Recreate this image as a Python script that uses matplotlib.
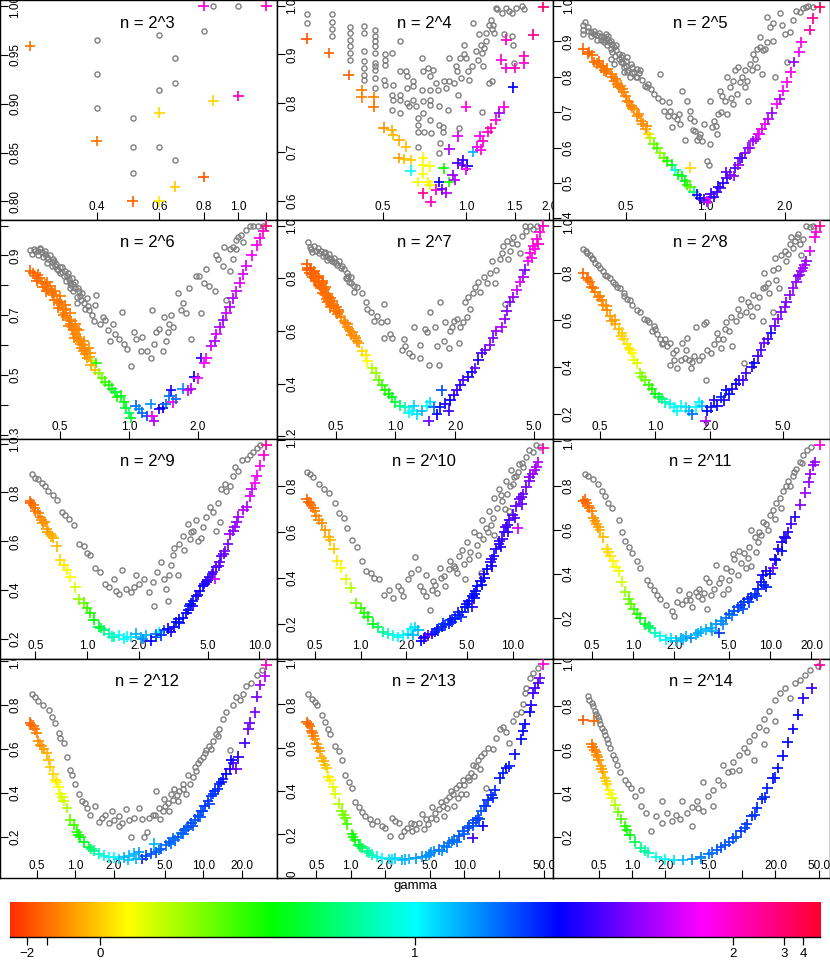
import numpy as np
import matplotlib
matplotlib.use("Agg")
import matplotlib.pyplot as plt
from matplotlib.colors import ListedColormap, hsv_to_rgb

plt.rcParams['font.family'] = ['Liberation Sans', 'DejaVu Sans']

# ---------------- data (x, y) for gray circles, (x, y, colour position) for crosses -------------
n3_circles = [(0.4,0.965),(0.4,0.930),(0.4,0.896),(0.505,0.885),(0.505,0.856),(0.505,0.829),
              (0.6,0.970),(0.6,0.914),(0.6,0.856),(0.664,0.947),(0.664,0.921),(0.664,0.842),
              (0.8,0.974),(0.85,1.0),(1.0,1.0)]
n3_crosses = [(0.26,0.959,0.05),(0.40,0.862,0.05),(0.505,0.80,0.04),(0.6,0.891,0.12),(0.6,0.80,0.13),
              (0.664,0.815,0.11),(0.8,0.825,0.03),(0.85,0.903,0.12),(0.8,1.0,0.88),(1.0,0.908,0.9),
              (1.2,1.0,0.9)]

n4_circles = [(0.266,0.982),(0.266,0.964),(0.328,0.982),(0.328,0.966),(0.328,0.952),(0.328,0.937),
              (0.38,0.956),(0.38,0.944),(0.38,0.93),(0.38,0.917),(0.38,0.903),(0.38,0.889),
              (0.429,0.959),(0.429,0.944),(0.429,0.906),(0.429,0.886),(0.429,0.872),(0.429,0.858),(0.429,0.848),
              (0.47,0.949),(0.47,0.937),(0.47,0.927),(0.47,0.917),(0.47,0.903),(0.47,0.882),(0.47,0.876),
              (0.47,0.869),(0.47,0.852),(0.47,0.831),
              (0.51,0.9),(0.51,0.889),(0.51,0.879),(0.506,0.848),(0.51,0.838),(0.543,0.903),(0.546,0.838),
              (0.543,0.817),(0.546,0.807),(0.543,0.787),(0.58,0.927),(0.58,0.865),(0.58,0.817),(0.58,0.807),
              (0.58,0.78),(0.61,0.865),(0.613,0.855),(0.613,0.831),(0.613,0.8),(0.623,0.794),(0.644,0.845),
              (0.644,0.835),(0.644,0.807),(0.662,0.794),(0.671,0.77),(0.671,0.756),(0.671,0.742),(0.671,0.711),
              (0.696,0.893),(0.7,0.865),(0.696,0.828),(0.7,0.804),(0.7,0.78),(0.703,0.742),(0.729,0.872),
              (0.739,0.855),(0.739,0.828),(0.743,0.807),(0.743,0.797),(0.743,0.766),(0.749,0.739),(0.76,0.869),
              (0.781,0.841),(0.792,0.828),(0.798,0.794),(0.798,0.756),(0.803,0.718),(0.825,0.752),(0.829,0.742),
              (0.836,0.845),(0.848,0.831),(0.86,0.787),(0.871,0.893),(0.871,0.845),(0.908,0.841),(0.921,0.876),
              (0.926,0.865),(0.934,0.817),(0.941,0.749),(0.952,0.893),(0.96,0.852),(0.986,0.92),(0.986,0.9),
              (1.0,0.893),(1.014,0.865),(1.028,0.848),(1.056,0.876),(1.062,0.964),(1.086,0.906),(1.101,0.889),
              (1.116,0.941),(1.132,0.92),(1.147,0.903),(1.154,0.876),(1.163,0.913),(1.179,0.927),(1.186,0.944),
              (1.212,0.961),(1.229,0.971),(1.246,0.951),(1.253,0.961),(1.212,0.841),(1.246,0.845),(1.263,0.944),
              (1.281,0.995),(1.299,0.992),(1.353,0.985),(1.391,0.995),(1.43,0.988),(1.47,0.985),(1.511,0.995),
              (1.596,0.999),(1.619,0.992),(1.47,0.937),(1.372,0.941),(1.478,0.92),(1.49,0.882),(1.147,0.783),
              (0.80,0.698)]
n4_crosses = [(0.266,0.932,0.03),(0.32,0.903,0.04),(0.377,0.858,0.04),(0.42,0.827,0.06),(0.42,0.812,0.06),
              (0.465,0.812,0.06),(0.465,0.793,0.05),(0.505,0.75,0.07),(0.54,0.745,0.09),(0.545,0.735,0.1),
              (0.575,0.724,0.09),(0.607,0.711,0.1),(0.572,0.688,0.08),(0.6,0.686,0.1),(0.632,0.684,0.11),
              (0.70,0.689,0.14),(0.74,0.671,0.15),(0.70,0.674,0.15),(0.632,0.662,0.5),(0.67,0.639,0.16),
              (0.70,0.656,0.15),(0.73,0.639,0.14),(0.74,0.633,0.16),(0.70,0.616,0.93),(0.747,0.599,0.9),
              (0.78,0.623,0.9),(0.80,0.639,0.68),(0.83,0.667,0.32),(0.87,0.639,0.3),(0.85,0.617,0.8),
              (0.82,0.624,0.75),(0.897,0.653,0.78),(0.91,0.643,0.8),(0.935,0.677,0.72),(0.97,0.674,0.77),
              (0.975,0.684,0.72),(1.01,0.672,0.68),(1.0,0.665,0.85),(0.935,0.732,0.83),(0.87,0.706,0.8),
              (1.0,0.793,0.88),(1.06,0.701,0.55),(1.1,0.711,0.85),(1.12,0.732,0.85),(1.15,0.722,0.88),
              (1.13,0.705,0.87),(1.2,0.742,0.9),(1.23,0.749,0.9),(1.28,0.766,0.88),(1.32,0.780,0.78),
              (1.37,0.793,0.88),(1.34,0.889,0.88),(1.4,0.930,0.9),(1.4,0.872,0.88),(1.48,0.833,0.68),
              (1.5,0.872,0.9),(1.62,0.896,0.9),(1.62,0.882,0.88),(1.75,0.940,0.93),(1.9,0.997,0.95)]

n5_circles = [(0.346,0.946),(0.346,0.932),(0.346,0.922),(0.359,0.941),(0.369,0.927),(0.38,0.922),(0.391,0.917),
              (0.403,0.915),(0.415,0.913),(0.427,0.908),(0.433,0.898),(0.445,0.894),(0.452,0.884),(0.415,0.898),
              (0.403,0.903),(0.439,0.88),(0.458,0.875),(0.472,0.865),(0.486,0.861),(0.5,0.846),(0.507,0.856),
              (0.522,0.837),(0.53,0.827),(0.537,0.813),(0.553,0.823),(0.569,0.818),(0.553,0.799),(0.507,0.813),
              (0.493,0.827),(0.479,0.842),(0.439,0.851),(0.452,0.837),(0.621,0.766),(0.639,0.751),(0.677,0.808),
              (0.687,0.732),(0.697,0.704),(0.728,0.728),(0.738,0.704),(0.749,0.657),(0.76,0.69),(0.794,0.694),
              (0.817,0.761),(0.853,0.732),(0.878,0.685),(0.904,0.676),(0.917,0.647),(0.93,0.623),(0.957,0.638),
              (0.986,0.666),(1.015,0.562),(1.029,0.552),(1.044,0.732),(1.06,0.657),(1.075,0.676),(1.106,0.638),
              (1.122,0.694),(1.139,0.761),(1.155,0.747),(1.189,0.732),(1.206,0.799),(1.242,0.77),(1.278,0.789),
              (1.297,0.818),(1.316,0.751),(1.335,0.827),(1.354,0.785),(1.414,0.818),(1.434,0.789),(1.476,0.837),
              (1.52,0.865),(1.542,0.851),(1.564,0.88),(1.61,0.913),(1.634,0.808),(1.658,0.875),(1.706,0.898),
              (1.756,0.941),(1.807,0.951),(1.833,0.799),(1.914,0.979),(2.0,0.922),(2.029,0.842),(2.088,0.927),
              (2.149,0.96),(2.277,0.984),(2.343,0.993),(2.413,0.998),(2.556,0.998),(1.706,0.97),(1.61,0.884),
              (1.564,0.827),(1.455,0.732),(1.414,0.77),(1.278,0.723),(1.206,0.694),(1.044,0.609),(0.971,0.619),
              (0.878,0.704),(0.841,0.623),(0.805,0.666),
              (0.35,0.955),(0.36,0.93),(0.37,0.915),(0.38,0.93),(0.39,0.905),(0.395,0.925),(0.41,0.905),
              (0.42,0.92),(0.425,0.89),(0.43,0.915),(0.44,0.9),(0.445,0.87),(0.455,0.86),(0.46,0.89),
              (0.47,0.85),(0.48,0.855),(0.49,0.84),(0.495,0.815),(0.5,0.83),(0.51,0.82),(0.52,0.8),
              (0.53,0.81),(0.545,0.8),(0.56,0.81),(0.575,0.79),(0.59,0.775),(0.6,0.77),(0.61,0.78),
              (0.66,0.74),(0.72,0.69),(0.78,0.68),(0.9,0.65),(0.95,0.63),(1.1,0.66),(1.15,0.7),
              (1.25,0.74),(1.38,0.8),(1.5,0.82),(1.68,0.88),(1.8,0.9),(1.95,0.945),(2.2,0.985),(2.45,1.0)]
n5_crosses = [(0.346,0.88,0.04),(0.359,0.865,0.04),(0.374,0.861,0.045),(0.38,0.842,0.045),(0.391,0.837,0.05),
              (0.403,0.827,0.05),(0.415,0.818,0.05),(0.427,0.823,0.055),(0.439,0.808,0.055),(0.452,0.789,0.055),
              (0.465,0.78,0.055),(0.479,0.775,0.06),(0.493,0.756,0.06),(0.507,0.732,0.06),(0.525,0.718,0.06),
              (0.537,0.709,0.065),(0.553,0.69,0.065),(0.572,0.674,0.065),(0.595,0.652,0.07),(0.62,0.628,0.2),
              (0.639,0.609,0.25),(0.658,0.6,0.27),(0.677,0.585,0.22),(0.697,0.571,0.25),(0.717,0.562,0.3),
              (0.749,0.552,0.33),(0.77,0.538,0.5),(0.79,0.524,0.32),(0.817,0.519,0.35),(0.84,0.505,0.33),
              (0.853,0.495,0.3),(0.878,0.543,0.12),(0.878,0.49,0.25),(0.904,0.476,0.4),(0.93,0.467,0.7),
              (0.957,0.457,0.68),(0.985,0.453,0.72),(1.015,0.448,0.8),(1.044,0.457,0.85),(1.075,0.462,0.7),
              (1.106,0.476,0.72),(1.139,0.486,0.75),(1.172,0.5,0.7),(1.206,0.514,0.72),(1.242,0.524,0.75),
              (1.297,0.543,0.73),(1.335,0.552,0.78),(1.374,0.571,0.72),(1.414,0.585,0.76),(1.476,0.6,0.8),
              (1.52,0.619,0.78),(1.587,0.638,0.82),(1.634,0.652,0.83),(1.682,0.666,0.84),(1.731,0.68,0.8),
              (1.781,0.699,0.78),(1.86,0.723,0.85),(1.914,0.737,0.8),(1.97,0.761,0.85),(2.029,0.785,0.86),
              (2.1,0.813,0.87),(2.16,0.842,0.78),(2.265,0.87,0.85),(2.31,0.898,0.88),(2.48,0.932,0.92),
              (2.55,0.965,0.93),(2.71,0.996,0.97),
              (0.365,0.87,0.04),(0.395,0.845,0.045),(0.41,0.832,0.05),(0.42,0.815,0.05),(0.445,0.8,0.055),
              (0.46,0.795,0.055),(0.47,0.77,0.055),(0.485,0.765,0.06),(0.5,0.745,0.06),(0.515,0.728,0.06),
              (0.53,0.712,0.065),(0.56,0.695,0.065),(0.58,0.668,0.07),(0.6,0.66,0.07),(0.61,0.64,0.12),
              (1.05,0.47,0.72),(1.12,0.49,0.7),(1.2,0.53,0.74),(1.28,0.52,0.78),(1.35,0.57,0.74),
              (1.45,0.6,0.78),(1.55,0.625,0.8),(1.6,0.64,0.85)]

n6_circles = [(0.369,0.917),(0.383,0.923),(0.398,0.914),(0.408,0.926),(0.415,0.911),(0.429,0.906),(0.437,0.894),
              (0.444,0.889),(0.459,0.877),(0.467,0.889),(0.475,0.866),(0.483,0.854),(0.5,0.86),(0.508,0.843),
              (0.526,0.849),(0.535,0.831),(0.544,0.82),(0.553,0.809),(0.563,0.826),(0.572,0.803),(0.582,0.791),
              (0.602,0.78),(0.612,0.763),(0.622,0.774),(0.592,0.74),(0.633,0.74),(0.655,0.757),(0.666,0.717),
              (0.713,0.734),(0.721,0.769),(0.75,0.671),(0.77,0.694),(0.789,0.683),(0.809,0.649),(0.83,0.614),
              (0.852,0.671),(0.873,0.637),(0.905,0.62),(0.935,0.711),(0.951,0.603),(0.984,0.586),(1.017,0.529),
              (1.052,0.643),(1.07,0.62),(1.126,0.58),(1.145,0.626),(1.204,0.58),(1.246,0.557),(1.267,0.717),
              (1.289,0.603),(1.311,0.643),(1.356,0.654),(1.403,0.58),(1.427,0.694),(1.451,0.614),(1.476,0.643),
              (1.5,0.671),(1.527,0.7),(1.553,0.66),(1.633,0.774),(1.69,0.717),(1.717,0.74),(1.778,0.706),
              (1.84,0.791),(1.87,0.62),(1.968,0.831),(2.03,0.831),(2.07,0.706),(2.14,0.809),(2.18,0.854),
              (2.25,0.797),(2.37,0.78),(2.41,0.9),(2.45,0.889),(2.58,0.866),(2.62,0.929),(2.76,0.923),
              (2.85,0.929),(2.95,0.951),(3.0,0.963),(3.11,0.969),(3.16,0.946),(3.27,0.986),(3.38,0.997),
              (3.5,0.997),(3.68,1.0),(3.87,1.0),(2.85,0.889),(2.76,0.849),(2.67,0.751),(2.95,0.923),
              (0.375,0.905),(0.39,0.915),(0.4,0.9),(0.41,0.92),(0.42,0.895),(0.43,0.915),(0.44,0.875),
              (0.45,0.9),(0.46,0.865),(0.47,0.88),(0.48,0.87),(0.49,0.85),(0.5,0.84),(0.51,0.86),
              (0.52,0.83),(0.53,0.815),(0.54,0.84),(0.55,0.79),(0.56,0.8),(0.57,0.78),(0.58,0.81),
              (0.59,0.76),(0.6,0.79),(0.62,0.75),(0.64,0.72),(0.66,0.73),(0.69,0.7),(0.7,0.68)]
n6_crosses = [(0.369,0.849,0.04),(0.388,0.831,0.045),(0.408,0.826,0.045),(0.415,0.809,0.05),(0.429,0.803,0.05),
              (0.444,0.786,0.05),(0.452,0.797,0.05),(0.467,0.769,0.055),(0.475,0.78,0.05),(0.483,0.751,0.055),
              (0.492,0.74,0.055),(0.508,0.734,0.055),(0.517,0.717,0.055),(0.526,0.706,0.055),(0.535,0.694,0.06),
              (0.544,0.683,0.06),(0.553,0.671,0.06),(0.563,0.66,0.06),(0.572,0.649,0.06),(0.582,0.637,0.06),
              (0.592,0.626,0.065),(0.602,0.614,0.065),(0.612,0.603,0.065),(0.622,0.591,0.065),(0.633,0.58,0.065),
              (0.644,0.569,0.07),(0.655,0.557,0.07),(0.5,0.763,0.055),(0.526,0.734,0.055),(0.553,0.706,0.06),
              (0.582,0.671,0.06),(0.602,0.649,0.065),(0.633,0.614,0.065),(0.666,0.591,0.07),(0.678,0.574,0.08),
              (0.689,0.546,0.2),(0.721,0.54,0.3),(0.713,0.517,0.1),(0.737,0.506,0.22),(0.762,0.489,0.25),
              (0.789,0.477,0.28),(0.816,0.466,0.3),(0.844,0.454,0.33),(0.873,0.443,0.35),(0.888,0.426,0.3),
              (0.919,0.431,0.35),(0.951,0.409,0.33),(0.967,0.391,0.35),(1.0,0.374,0.4),(1.017,0.357,0.35),
              (1.07,0.397,0.6),(1.107,0.386,0.58),(1.145,0.374,0.6),(1.204,0.363,0.62),(1.246,0.403,0.58),
              (1.267,0.363,0.85),(1.289,0.346,0.8),(1.356,0.386,0.7),(1.403,0.391,0.68),(1.451,0.403,0.6),
              (1.5,0.431,0.6),(1.527,0.449,0.7),(1.553,0.409,0.88),(1.606,0.42,0.6),(1.717,0.454,0.58),
              (1.806,0.449,0.82),(1.87,0.454,0.8),(1.935,0.494,0.68),(2.0,0.489,0.85),(2.07,0.557,0.7),
              (2.14,0.54,0.86),(2.18,0.557,0.85),(2.29,0.597,0.82),(2.37,0.614,0.8),(2.41,0.637,0.82),
              (2.5,0.66,0.8),(2.58,0.683,0.78),(2.67,0.706,0.82),(2.76,0.729,0.8),(2.85,0.757,0.8),
              (2.95,0.78,0.82),(3.05,0.809,0.83),(3.16,0.837,0.83),(3.27,0.866,0.83),(3.44,0.9,0.85),
              (3.62,0.934,0.87),(3.74,0.957,0.87),(3.87,0.98,0.88),(4.0,1.0,0.95),
              (0.38,0.84,0.04),(0.395,0.815,0.04),(0.4,0.835,0.04),(0.42,0.795,0.045),(0.435,0.78,0.045),
              (0.44,0.81,0.045),(0.46,0.775,0.045),(0.47,0.75,0.05),(0.49,0.725,0.05),(0.5,0.745,0.05),
              (0.515,0.7,0.05),(0.53,0.72,0.055),(0.545,0.665,0.055),(0.56,0.68,0.055),(0.575,0.625,0.06),
              (0.59,0.655,0.06),(0.61,0.62,0.065),(0.625,0.6,0.065),(0.64,0.585,0.065),(0.655,0.575,0.07),
              (0.67,0.56,0.08),(0.68,0.535,0.09)]

n7_circles = [(0.364,0.939),(0.375,0.91),(0.39,0.923),(0.405,0.916),(0.42,0.903),(0.437,0.897),(0.446,0.884),
              (0.463,0.89),(0.472,0.871),(0.49,0.877),(0.5,0.858),(0.52,0.865),(0.54,0.845),(0.572,0.819),
              (0.562,0.8),(0.583,0.787),(0.595,0.806),(0.618,0.748),(0.642,0.768),(0.68,0.742),(0.707,0.71),
              (0.72,0.684),(0.749,0.671),(0.779,0.639),(0.81,0.658),(0.874,0.703),(0.841,0.632),(0.908,0.639),
              (0.874,0.574),(0.944,0.587),(0.962,0.574),(1.1,0.568),(1.08,0.529),(1.167,0.516),(1.122,0.542),
              (1.236,0.613),(1.212,0.503),(1.335,0.497),(1.335,0.548),(1.414,0.606),(1.442,0.594),(1.498,0.671),
              (1.47,0.471),(1.587,0.613),(1.618,0.542),(1.65,0.471),(1.682,0.71),(1.75,0.561),(1.782,0.632),
              (1.852,0.535),(1.888,0.6),(1.925,0.613),(1.962,0.639),(2.04,0.645),(2.08,0.555),(2.119,0.613),
              (2.2,0.632),(2.245,0.71),(2.29,0.652),(2.33,0.729),(2.378,0.684),(2.47,0.742),(2.52,0.768),
              (2.62,0.787),(2.67,0.748),(2.78,0.806),(2.89,0.781),(3.0,0.819),(3.06,0.865),(3.18,0.781),
              (3.23,0.832),(3.36,0.871),(3.43,0.897),(3.5,0.923),(3.63,0.942),(3.7,0.871),(3.78,0.903),
              (3.85,0.935),(3.92,0.955),(4.08,0.929),(4.24,0.897),(4.32,0.961),(4.49,1.0),(4.57,0.981),
              (4.76,1.0),(4.94,0.987),(5.14,1.0),(3.56,0.703),
              (0.37,0.92),(0.38,0.9),(0.4,0.905),(0.41,0.895),(0.43,0.885),(0.44,0.9),(0.45,0.87),
              (0.46,0.875),(0.48,0.865),(0.49,0.86),(0.51,0.85),(0.53,0.84),(0.55,0.835),(0.57,0.8),
              (0.58,0.81),(0.6,0.78),(0.62,0.77)]
n7_crosses = [(0.357,0.852,0.035),(0.375,0.839,0.04),(0.39,0.826,0.04),(0.382,0.806,0.04),(0.405,0.806,0.04),
              (0.412,0.787,0.045),(0.428,0.781,0.045),(0.42,0.761,0.045),(0.437,0.755,0.045),(0.446,0.735,0.045),
              (0.463,0.729,0.05),(0.455,0.71,0.05),(0.472,0.703,0.05),(0.49,0.69,0.05),(0.5,0.677,0.05),
              (0.52,0.671,0.05),(0.53,0.652,0.06),(0.55,0.639,0.065),(0.572,0.626,0.065),(0.583,0.606,0.065),
              (0.606,0.594,0.07),(0.63,0.574,0.07),(0.654,0.555,0.08),(0.68,0.523,0.12),(0.707,0.51,0.13),
              (0.72,0.484,0.15),(0.764,0.458,0.2),(0.794,0.439,0.22),(0.825,0.413,0.25),(0.857,0.394,0.28),
              (0.891,0.374,0.3),(0.926,0.361,0.32),(0.962,0.348,0.34),(1.0,0.329,0.36),(1.06,0.316,0.4),
              (1.122,0.31,0.45),(1.167,0.29,0.5),(1.212,0.297,0.5),(1.236,0.316,0.53),(1.285,0.284,0.52),
              (1.36,0.297,0.55),(1.442,0.316,0.5),(1.498,0.329,0.52),(1.556,0.31,0.6),(1.47,0.258,0.75),
              (1.618,0.284,0.68),(1.682,0.31,0.66),(1.714,0.374,0.62),(1.782,0.323,0.7),(1.852,0.297,0.72),
              (1.888,0.336,0.68),(1.962,0.355,0.7),(2.04,0.374,0.72),(2.119,0.394,0.7),(2.2,0.413,0.73),
              (2.33,0.426,0.7),(2.42,0.445,0.68),(2.52,0.458,0.75),(2.62,0.49,0.7),(2.72,0.516,0.72),
              (2.83,0.529,0.75),(3.0,0.548,0.77),(3.1,0.574,0.76),(3.23,0.6,0.78),(3.43,0.613,0.8),
              (3.56,0.645,0.78),(3.63,0.677,0.77),(3.78,0.71,0.76),(3.92,0.729,0.78),(4.08,0.755,0.82),
              (4.24,0.787,0.83),(4.4,0.806,0.8),(4.49,0.832,0.76),(4.66,0.865,0.86),(4.76,0.897,0.87),
              (4.94,0.923,0.88),(5.14,0.948,0.88),(5.34,0.974,0.88),(5.55,1.0,0.9),(5.04,0.91,0.86),
              (4.85,0.877,0.87),(5.24,0.929,0.89),
              (0.37,0.82,0.04),(0.39,0.8,0.04),(0.41,0.775,0.045),(0.43,0.745,0.045),(0.45,0.72,0.05),
              (0.47,0.69,0.05),(0.49,0.7,0.05),(0.4,0.79,0.04),(0.36,0.84,0.04),(0.44,0.76,0.045),
              (0.36,0.83,0.035),(0.37,0.835,0.035),(0.375,0.815,0.035),(0.385,0.82,0.04),(0.395,0.79,0.04),
              (0.4,0.81,0.04),(0.41,0.8,0.04),(0.415,0.77,0.04),(0.425,0.765,0.04),(0.43,0.79,0.04),
              (0.44,0.74,0.045),(0.445,0.765,0.045),(0.455,0.74,0.045),(0.46,0.715,0.045),(0.47,0.725,0.045),
              (0.475,0.695,0.045),(0.48,0.715,0.045),(0.495,0.685,0.05),(0.505,0.69,0.05),(0.51,0.665,0.05),
              (0.515,0.68,0.05),(0.56,0.63,0.06),(0.575,0.615,0.065),(0.59,0.6,0.065),(0.6,0.585,0.065),
              (0.62,0.58,0.07),(0.64,0.56,0.07)]

n8_circles = [(0.405,0.899),(0.422,0.885),(0.44,0.877),(0.45,0.863),(0.47,0.841),(0.489,0.834),(0.5,0.82),
              (0.522,0.805),(0.544,0.784),(0.567,0.777),(0.592,0.762),(0.618,0.74),(0.644,0.733),(0.672,0.712),
              (0.701,0.69),(0.731,0.683),(0.747,0.661),(0.796,0.64),(0.83,0.632),(0.866,0.604),(0.923,0.589),
              (0.963,0.553),(0.983,0.575),(1.026,0.539),(1.07,0.517),(1.093,0.496),(1.14,0.517),(1.165,0.488),
              (1.212,0.503),(1.212,0.409),(1.267,0.431),(1.294,0.474),(1.321,0.395),(1.378,0.431),(1.41,0.503),
              (1.467,0.474),(1.497,0.524),(1.532,0.431),(1.564,0.395),(1.633,0.445),(1.667,0.568),(1.74,0.431),
              (1.815,0.445),(1.853,0.582),(1.89,0.344),(1.933,0.474),(2.01,0.459),(2.103,0.496),(2.194,0.546),
              (2.29,0.481),(2.34,0.517),(2.44,0.589),(2.544,0.553),(2.6,0.611),(2.65,0.488),(2.77,0.596),
              (2.83,0.647),(2.95,0.69),(3.08,0.416),(3.14,0.632),(3.21,0.676),(3.38,0.618),(3.42,0.705),
              (3.6,0.654),(3.72,0.697),(3.88,0.733),(3.96,0.798),(4.13,0.755),(4.22,0.712),(4.4,0.813),
              (4.5,0.863),(4.6,0.769),(4.79,0.733),(4.9,0.877),(5.11,0.892),(5.22,0.849),(5.44,0.921),
              (5.56,0.95),(5.68,0.906),(5.8,0.935),(6.05,0.964),(6.18,0.921),(6.3,0.877),(6.45,0.942),
              (6.73,1.0),(7.01,0.993),(7.3,1.0),(4.4,0.632),(3.88,0.596),(1.89,0.589),
              (0.42,0.89),(0.46,0.86),(0.53,0.79),(0.6,0.75),(0.68,0.7),(0.9,0.6),(1.0,0.56),(1.1,0.5),
              (1.25,0.46),(1.45,0.44),(1.6,0.42),(2.2,0.52),(2.4,0.56),(2.9,0.62),(3.3,0.66),(4.0,0.74),
              (4.7,0.82),(5.3,0.88),(6.0,0.95)]
n8_crosses = [(0.405,0.798,0.04),(0.422,0.777,0.05),(0.44,0.762,0.05),(0.45,0.74,0.05),(0.47,0.719,0.06),
              (0.489,0.697,0.06),(0.511,0.683,0.06),(0.522,0.661,0.07),(0.544,0.64,0.07),(0.567,0.618,0.08),
              (0.58,0.596,0.08),(0.605,0.582,0.09),(0.631,0.56,0.1),(0.658,0.532,0.11),(0.672,0.517,0.12),
              (0.701,0.496,0.13),(0.731,0.474,0.14),(0.747,0.459,0.15),(0.763,0.431,0.16),(0.796,0.416,0.17),
              (0.83,0.373,0.22),(0.848,0.359,0.24),(0.885,0.344,0.25),(0.923,0.323,0.28),(0.963,0.308,0.3),
              (1.005,0.287,0.33),(1.048,0.272,0.36),(1.093,0.265,0.4),(1.14,0.25,0.45),(1.212,0.243,0.48),
              (1.267,0.229,0.5),(1.321,0.214,0.5),(1.378,0.236,0.5),(1.467,0.229,0.52),(1.532,0.214,0.55),
              (1.6,0.2,0.6),(1.667,0.229,0.5),(1.74,0.25,0.5),(1.815,0.236,0.55),(1.89,0.171,0.8),
              (1.933,0.214,0.68),(2.01,0.229,0.66),(2.103,0.258,0.7),(2.194,0.236,0.68),(2.29,0.272,0.66),
              (2.388,0.258,0.7),(2.44,0.301,0.68),(2.544,0.287,0.67),(2.65,0.308,0.7),(2.77,0.33,0.68),
              (2.89,0.344,0.7),(3.01,0.344,0.73),(3.14,0.373,0.72),(3.38,0.402,0.7),(3.49,0.416,0.68),
              (3.64,0.445,0.72),(3.8,0.474,0.73),(3.96,0.503,0.75),(4.13,0.517,0.72),(4.31,0.546,0.68),
              (4.5,0.575,0.75),(4.69,0.604,0.77),(4.9,0.632,0.76),(5.11,0.654,0.77),(5.22,0.676,0.76),
              (5.44,0.705,0.77),(5.68,0.733,0.78),(5.93,0.762,0.78),(6.18,0.791,0.78),(6.45,0.82,0.8),
              (6.73,0.849,0.78),(7.01,0.892,0.83),(7.47,0.95,0.87),(7.62,0.971,0.88),(7.96,1.0,0.92),
              (6.58,0.834,0.79),(6.05,0.784,0.77),(6.3,0.805,0.79),
              (0.43,0.77,0.05),(0.46,0.735,0.05),(0.5,0.7,0.06),(0.54,0.66,0.07),(0.6,0.6,0.08),
              (0.66,0.545,0.11),(0.72,0.48,0.13)]

n9_circles = [(0.475,0.875),(0.497,0.861),(0.52,0.854),(0.544,0.84),(0.569,0.826),(0.595,0.805),(0.636,0.791),
              (0.666,0.77),(0.711,0.721),(0.745,0.707),(0.779,0.693),(0.833,0.665),(0.891,0.587),(0.953,0.58),
              (0.997,0.552),(1.043,0.545),(1.116,0.489),(1.193,0.475),(1.276,0.426),(1.335,0.412),(1.428,0.447),
              (1.46,0.398),(1.528,0.384),(1.598,0.482),(1.67,0.405),(1.79,0.391),(1.871,0.412),(1.915,0.461),
              (2.0,0.426),(2.14,0.447),(2.29,0.391),(2.4,0.433),(2.45,0.335),(2.56,0.475),(2.68,0.517),
              (2.8,0.447),(2.87,0.405),(2.94,0.356),(3.0,0.461),(3.07,0.503),(3.14,0.545),(3.21,0.573),
              (3.36,0.461),(3.43,0.587),(3.6,0.622),(3.67,0.566),(3.84,0.672),(3.93,0.608),(4.02,0.636),
              (4.11,0.643),(4.3,0.686),(4.4,0.601),(4.6,0.615),(4.93,0.7),(5.14,0.742),(5.38,0.721),
              (5.76,0.756),(5.89,0.679),(6.02,0.812),(6.3,0.833),(6.44,0.805),(6.74,0.826),(7.05,0.868),
              (7.21,0.903),(7.54,0.889),(7.89,0.931),(8.45,0.938),(8.83,0.952),(9.24,0.966),(9.66,0.98),
              (10.1,0.994),(4.71,0.658),(5.63,0.644)]
n9_crosses = [(0.465,0.763,0.04),(0.486,0.749,0.05),(0.497,0.735,0.05),(0.52,0.714,0.06),(0.532,0.7,0.06),
              (0.544,0.686,0.07),(0.569,0.679,0.07),(0.582,0.651,0.08),(0.609,0.63,0.09),(0.636,0.615,0.09),
              (0.666,0.58,0.1),(0.696,0.524,0.12),(0.728,0.503,0.13),(0.762,0.482,0.14),(0.797,0.454,0.15),
              (0.852,0.412,0.17),(0.891,0.363,0.22),(0.953,0.349,0.25),(0.997,0.328,0.28),(1.043,0.307,0.3),
              (1.091,0.279,0.33),(1.167,0.251,0.35),(1.248,0.236,0.4),(1.335,0.222,0.45),(1.428,0.208,0.45),
              (1.528,0.215,0.5),(1.635,0.201,0.5),(1.79,0.208,0.52),(1.915,0.222,0.55),(2.05,0.208,0.55),
              (2.19,0.215,0.55),(2.34,0.194,0.68),(2.5,0.208,0.66),(2.62,0.229,0.5),(2.8,0.236,0.62),
              (2.94,0.243,0.68),(3.07,0.229,0.7),(3.21,0.251,0.68),(3.43,0.265,0.66),(3.6,0.286,0.67),
              (3.77,0.307,0.68),(3.93,0.335,0.66),(4.11,0.356,0.67),(4.3,0.377,0.68),(4.5,0.398,0.69),
              (4.71,0.419,0.68),(4.93,0.433,0.7),(5.14,0.454,0.72),(5.38,0.475,0.73),(5.63,0.496,0.72),
              (5.89,0.517,0.75),(6.02,0.538,0.74),(6.3,0.559,0.76),(6.58,0.587,0.76),(6.74,0.629,0.78),
              (7.05,0.644,0.77),(7.38,0.679,0.78),(7.54,0.7,0.79),(8.07,0.728,0.8),(8.45,0.742,0.8),
              (8.83,0.784,0.82),(9.03,0.812,0.82),(9.44,0.84,0.85),(9.66,0.868,0.85),(10.1,0.91,0.86),
              (10.6,0.952,0.88),(11.0,0.994,0.92),(5.5,0.447,0.82),(4.11,0.335,0.7),
              (3.3,0.27,0.67),(3.85,0.32,0.68),(4.4,0.38,0.7),(5.0,0.44,0.71),(5.8,0.5,0.74),(2.5,0.22,0.6),
              (0.47,0.755,0.04),(0.5,0.725,0.05),(0.55,0.675,0.07),(0.59,0.64,0.08),(0.62,0.62,0.09),
              (1.2,0.245,0.37),(1.4,0.21,0.45),(1.7,0.21,0.5),(2.1,0.2,0.58),(2.7,0.215,0.64),
              (3.4,0.28,0.67),(4.0,0.345,0.67),(4.8,0.425,0.7),(5.3,0.465,0.72),(6.2,0.55,0.75),(7.2,0.66,0.78)]

n10_circles = [(0.44,0.859),(0.463,0.852),(0.488,0.837),(0.527,0.807),(0.569,0.785),(0.615,0.77),(0.681,0.726),
               (0.717,0.681),(0.774,0.659),(0.815,0.615),(0.88,0.563),(0.95,0.533),(1.026,0.474),(1.08,0.43),
               (1.166,0.422),(1.227,0.4),(1.325,0.393),(1.431,0.326),(1.545,0.348),(1.627,0.311),(1.757,0.363),
               (1.85,0.348),(1.897,0.319),(2.05,0.393),(2.15,0.422),(2.27,0.489),(2.39,0.437),(2.45,0.363),
               (2.58,0.341),(2.71,0.319),(2.86,0.259),(2.93,0.348),(3.0,0.385),(3.16,0.333),(3.33,0.444),
               (3.51,0.407),(3.6,0.363),(3.79,0.437),(3.88,0.474),(4.09,0.452),(4.3,0.422),(4.42,0.496),
               (4.65,0.519),(4.77,0.459),(4.89,0.393),(5.02,0.556),(5.28,0.511),(5.56,0.6),(5.85,0.541),
               (6.0,0.585),(6.32,0.652),(6.65,0.615),(7.0,0.689),(7.17,0.63),(7.55,0.748),(7.95,0.704),
               (8.15,0.785),(8.58,0.733),(9.03,0.822),(9.26,0.763),(9.75,0.867),(10.0,0.807),(10.5,0.844),
               (11.1,0.896),(11.7,0.881),(12.3,0.926),(12.9,0.956),(13.6,0.948),(14.3,0.978),(15.1,0.97),
               (6.15,0.422),(7.55,0.585),(9.5,0.689),
               (2.7,0.41),(3.1,0.37),(3.4,0.4),(4.2,0.44),(5.2,0.48),(5.9,0.5),(6.4,0.57),(7.4,0.66),
               (8.4,0.76),(9.6,0.8),(10.2,0.84),(10.8,0.86),(11.6,0.9),(8.9,0.7),(6.9,0.6)]
n10_crosses = [(0.44,0.741,0.04),(0.463,0.726,0.05),(0.488,0.704,0.05),(0.5,0.689,0.06),(0.527,0.652,0.07),
               (0.554,0.637,0.07),(0.583,0.607,0.08),(0.615,0.578,0.09),(0.631,0.563,0.1),(0.664,0.526,0.11),
               (0.699,0.474,0.13),(0.736,0.444,0.15),(0.794,0.393,0.17),(0.857,0.356,0.2),(0.926,0.289,0.25),
               (1.0,0.267,0.28),(1.053,0.244,0.3),(1.108,0.23,0.32),(1.196,0.2,0.34),(1.292,0.185,0.38),
               (1.395,0.163,0.42),(1.506,0.156,0.45),(1.627,0.148,0.48),(1.757,0.141,0.5),(1.897,0.148,0.5),
               (2.05,0.156,0.52),(2.15,0.178,0.5),(2.27,0.185,0.52),(2.39,0.17,0.55),(2.51,0.126,0.68),
               (2.64,0.141,0.7),(2.78,0.148,0.75),(2.93,0.156,0.7),(3.08,0.163,0.66),(3.25,0.17,0.65),
               (3.42,0.185,0.66),(3.6,0.193,0.65),(3.79,0.2,0.66),(3.99,0.207,0.66),(4.19,0.222,0.66),
               (4.42,0.237,0.67),(4.65,0.252,0.66),(4.89,0.274,0.67),(5.15,0.296,0.68),(5.42,0.319,0.67),
               (5.7,0.341,0.68),(5.85,0.363,0.67),(6.15,0.385,0.68),(6.48,0.415,0.7),(6.82,0.437,0.68),
               (7.17,0.467,0.7),(7.55,0.496,0.69),(7.75,0.526,0.7),(8.15,0.548,0.71),(8.58,0.57,0.72),
               (8.8,0.6,0.7),(9.26,0.63,0.72),(9.5,0.652,0.73),(10.0,0.674,0.73),(10.5,0.711,0.74),
               (11.1,0.741,0.75),(11.7,0.763,0.75),(12.3,0.793,0.76),(12.9,0.822,0.76),(13.6,0.852,0.78),
               (14.3,0.881,0.8),(14.7,0.904,0.8),(15.9,0.963,0.9),(10.8,0.615,0.82),(5.42,0.274,0.72),
               (4.6,0.23,0.64),(5.1,0.27,0.66),(5.6,0.31,0.68),(6.3,0.37,0.67),(7.3,0.45,0.69),(8.4,0.535,0.7),
               (9.3,0.6,0.71),(10.3,0.66,0.74),(11.5,0.72,0.75),(4.0,0.22,0.66),(3.5,0.2,0.65),
               (0.45,0.73,0.04),(0.47,0.715,0.05),(0.51,0.67,0.06),(2.2,0.15,0.55),(2.6,0.135,0.7),
               (3.2,0.175,0.66),(3.9,0.215,0.66),(4.4,0.25,0.66),(5.0,0.285,0.67),(5.6,0.33,0.67),
               (6.5,0.4,0.69),(7.3,0.48,0.7),(8.2,0.56,0.71),(9.0,0.62,0.72),(11.4,0.75,0.75),
               (13.0,0.84,0.77),(14.0,0.87,0.79)]

n11_circles = [(0.447,0.852),(0.473,0.845),(0.514,0.829),(0.56,0.806),(0.592,0.775),(0.627,0.752),(0.663,0.72),
               (0.7,0.697),(0.785,0.643),(0.83,0.589),(0.879,0.55),(0.929,0.519),(0.983,0.495),(1.07,0.457),
               (1.132,0.425),(1.26,0.371),(1.34,0.348),(1.418,0.325),(1.5,0.301),(1.587,0.286),(1.727,0.255),
               (1.93,0.231),(1.99,0.208),(2.1,0.27),(2.165,0.325),(2.29,0.262),(2.42,0.278),(2.56,0.309),
               (2.71,0.247),(2.87,0.317),(3.03,0.332),(3.2,0.286),(3.39,0.379),(3.49,0.239),(3.69,0.301),
               (4.02,0.441),(4.25,0.356),(4.5,0.309),(4.76,0.425),(4.9,0.332),(5.18,0.41),(5.48,0.464),
               (5.8,0.394),(5.97,0.503),(6.13,0.449),(6.5,0.495),(6.67,0.425),(7.06,0.519),(7.26,0.433),
               (7.7,0.565),(8.1,0.542),(8.35,0.589),(8.6,0.573),(8.85,0.635),(9.35,0.627),(9.9,0.666),
               (10.5,0.689),(11.1,0.72),(11.8,0.744),(12.4,0.775),(13.1,0.798),(13.5,0.821),(14.7,0.845),
               (15.5,0.876),(16.4,0.907),(17.4,0.938),(18.4,0.961),(20.0,0.977),(7.26,0.596),(5.33,0.488),
               (3.59,0.363),
               (2.6,0.28),(3.0,0.3),(3.3,0.31),(3.9,0.33),(4.4,0.38),(5.0,0.37),(6.9,0.47),(7.9,0.5),
               (9.6,0.6),(10.8,0.65),(12.0,0.7),(14.0,0.8),(15.0,0.86),(17.0,0.9)]
n11_crosses = [(0.435,0.728,0.04),(0.46,0.72,0.04),(0.473,0.705,0.05),(0.5,0.682,0.06),(0.514,0.651,0.07),
               (0.544,0.627,0.08),(0.576,0.596,0.09),(0.609,0.565,0.1),(0.645,0.511,0.12),(0.682,0.48,0.13),
               (0.721,0.457,0.14),(0.785,0.41,0.16),(0.83,0.363,0.18),(0.879,0.317,0.22),(0.929,0.286,0.25),
               (1.011,0.239,0.28),(1.07,0.216,0.3),(1.132,0.2,0.32),(1.232,0.169,0.35),(1.34,0.154,0.4),
               (1.458,0.13,0.45),(1.587,0.115,0.48),(1.727,0.099,0.5),(1.879,0.107,0.52),(2.045,0.096,0.55),
               (2.225,0.107,0.55),(2.42,0.115,0.55),(2.63,0.107,0.58),(2.87,0.123,0.55),(3.12,0.138,0.55),
               (3.39,0.146,0.55),(3.69,0.154,0.56),(4.02,0.169,0.57),(4.25,0.13,0.64),(4.37,0.185,0.58),
               (4.76,0.2,0.6),(5.04,0.216,0.62),(5.48,0.231,0.63),(5.8,0.247,0.63),(6.13,0.255,0.64),
               (6.5,0.27,0.65),(6.86,0.286,0.66),(7.26,0.293,0.66),(7.7,0.309,0.65),(8.1,0.332,0.66),
               (8.6,0.363,0.67),(8.8,0.394,0.68),(9.35,0.41,0.7),(10.5,0.425,0.75),(10.8,0.464,0.68),
               (11.4,0.511,0.7),(12.1,0.542,0.7),(12.7,0.565,0.69),(13.5,0.589,0.7),(14.3,0.627,0.72),
               (15.2,0.658,0.7),(16.6,0.713,0.77),(18.0,0.767,0.78),(19.1,0.814,0.78),(19.6,0.852,0.78),
               (20.6,0.891,0.78),(21.2,0.907,0.78),(23.0,0.984,0.88),(9.35,0.34,0.66),(12.1,0.503,0.68),
               (5.3,0.21,0.6),(6.3,0.24,0.62),(7.0,0.27,0.63),(8.0,0.3,0.64),(9.0,0.35,0.66),(10.0,0.4,0.67),
               (11.0,0.46,0.69),(13.0,0.56,0.7),(4.5,0.17,0.58),(3.8,0.14,0.56),
               (0.45,0.735,0.04),(0.48,0.7,0.05),(0.53,0.64,0.07),(0.56,0.61,0.08),(0.66,0.5,0.12),
               (0.75,0.43,0.15),(0.96,0.26,0.26),(1.3,0.16,0.38),(2.3,0.1,0.55),(3.0,0.13,0.56)]

n12_circles = [(0.456,0.848),(0.484,0.837),(0.514,0.817),(0.563,0.798),(0.617,0.775),(0.655,0.744),(0.696,0.72),
               (0.739,0.674),(0.762,0.651),(0.809,0.627),(0.86,0.565),(0.913,0.503),(0.941,0.48),(1.0,0.441),
               (1.062,0.394),(1.128,0.363),(1.199,0.356),(1.236,0.332),(1.313,0.301),(1.437,0.34),(1.526,0.27),
               (1.62,0.286),(1.722,0.301),(1.83,0.262),(1.944,0.317),(2.0,0.278),(2.19,0.293),(2.33,0.262),
               (2.48,0.325),(2.63,0.278),(2.71,0.2),(2.88,0.286),(3.15,0.332),(3.45,0.2),(3.67,0.224),
               (3.78,0.286),(4.02,0.301),(4.27,0.41),(4.53,0.332),(4.82,0.317),(4.96,0.371),(5.28,0.356),
               (5.6,0.394),(5.95,0.418),(6.52,0.41),(6.93,0.441),(7.36,0.394),(7.6,0.48),(8.3,0.472),
               (8.57,0.519),(9.1,0.534),(9.96,0.565),(10.6,0.596),(11.2,0.612),(11.9,0.635),(12.7,0.666),
               (13.4,0.689),(14.3,0.736),(15.2,0.767),(16.1,0.596),(17.2,0.798),(18.2,0.837),(19.4,0.821),
               (20.6,0.852),(21.8,0.884),(23.9,0.899),(26.2,0.938),(28.7,0.961),(5.44,0.317),(6.33,0.363),
               (9.39,0.55),
               (4.2,0.3),(4.6,0.28),(5.0,0.34),(5.8,0.37),(6.2,0.39),(7.0,0.42),(7.9,0.44),(8.8,0.5),
               (10.3,0.58),(11.6,0.6),(13.0,0.66),(3.3,0.28),(2.2,0.25)]
n12_crosses = [(0.442,0.72,0.04),(0.47,0.705,0.05),(0.499,0.674,0.06),(0.514,0.635,0.07),(0.546,0.612,0.08),
               (0.598,0.581,0.09),(0.617,0.55,0.1),(0.635,0.519,0.11),(0.675,0.488,0.12),(0.717,0.449,0.14),
               (0.739,0.425,0.15),(0.762,0.394,0.16),(0.809,0.363,0.18),(0.86,0.332,0.2),(0.913,0.278,0.25),
               (0.97,0.255,0.28),(1.03,0.224,0.3),(1.095,0.2,0.32),(1.163,0.177,0.34),(1.273,0.154,0.37),
               (1.394,0.138,0.42),(1.526,0.123,0.45),(1.67,0.115,0.48),(1.83,0.107,0.5),(2.0,0.107,0.5),
               (2.19,0.099,0.53),(2.4,0.107,0.55),(2.63,0.115,0.55),(2.88,0.123,0.55),(3.15,0.13,0.57),
               (3.35,0.099,0.65),(3.56,0.115,0.63),(3.9,0.123,0.62),(4.14,0.169,0.55),(4.27,0.13,0.62),
               (4.67,0.146,0.62),(5.12,0.161,0.6),(5.44,0.177,0.62),(5.78,0.193,0.6),(6.33,0.2,0.62),
               (6.72,0.216,0.6),(7.14,0.231,0.62),(7.6,0.247,0.62),(8.07,0.262,0.63),(8.57,0.278,0.62),
               (9.1,0.293,0.63),(9.66,0.317,0.63),(10.3,0.34,0.64),(10.9,0.363,0.65),(11.6,0.387,0.64),
               (12.3,0.41,0.65),(13.4,0.441,0.66),(14.3,0.464,0.67),(15.2,0.488,0.68),(16.1,0.511,0.7),
               (17.2,0.534,0.72),(16.6,0.55,0.68),(18.2,0.511,0.75),(18.8,0.565,0.7),(21.2,0.627,0.72),
               (22.5,0.689,0.75),(23.2,0.72,0.75),(25.5,0.767,0.76),(26.2,0.837,0.76),(27.8,0.891,0.78),
               (30.5,0.93,0.8),(31.3,0.984,0.9),
               (6.0,0.185,0.6),(7.0,0.215,0.61),(8.3,0.25,0.62),(9.5,0.29,0.62),(11.2,0.35,0.63),
               (13.0,0.42,0.65),(2.6,0.095,0.54),(3.0,0.1,0.55),
               (0.45,0.71,0.04),(0.48,0.69,0.05),(0.53,0.62,0.07),(0.57,0.6,0.08),(0.7,0.46,0.13),
               (0.79,0.38,0.17),(1.06,0.21,0.31),(1.33,0.145,0.4),(4.5,0.14,0.6),(5.6,0.17,0.6),
               (7.4,0.235,0.61),(9.9,0.32,0.63),(12.0,0.395,0.64),(13.9,0.45,0.66)]

n13_circles = [(0.425,0.846),(0.455,0.827),(0.487,0.812),(0.504,0.796),(0.558,0.749),(0.597,0.718),(0.639,0.686),
               (0.661,0.663),(0.732,0.608),(0.783,0.584),(0.838,0.545),(0.897,0.475),(0.96,0.443),(1.027,0.412),
               (1.1,0.349),(1.177,0.325),(1.259,0.302),(1.348,0.286),(1.493,0.271),(1.544,0.247),(1.709,0.263),
               (1.892,0.239),(2.026,0.231),(2.24,0.192),(2.32,0.278),(2.48,0.263),(2.66,0.255),(2.75,0.192),
               (2.94,0.216),(3.15,0.231),(3.37,0.255),(3.48,0.216),(3.73,0.224),(3.99,0.255),(4.28,0.294),
               (4.42,0.224),(4.74,0.247),(5.06,0.278),(5.24,0.325),(5.61,0.271),(6.0,0.318),(6.43,0.333),
               (6.64,0.286),(6.87,0.357),(7.36,0.373),(7.87,0.388),(8.15,0.333),(8.43,0.412),(9.02,0.427),
               (9.66,0.451),(10.3,0.388),(10.7,0.467),(11.4,0.482),(11.8,0.522),(12.7,0.514),(13.1,0.545),
               (14.0,0.561),(14.9,0.576),(16.0,0.6),(17.8,0.592),(19.0,0.647),(20.4,0.686),(21.8,0.694),
               (23.3,0.671),(24.9,0.624),(26.7,0.725),(28.6,0.757),(31.7,0.765),(32.8,0.804),(34.0,0.851),
               (35.1,0.875),(37.5,0.922),(40.2,0.945),(44.5,0.969),(15.5,0.412),(9.33,0.388),
               (5.5,0.3),(6.2,0.35),(7.0,0.32),(7.6,0.4),(8.8,0.37),(10.0,0.43),(11.0,0.45),(12.2,0.47),
               (13.6,0.5),(4.6,0.27),(3.6,0.25)]
n13_crosses = [(0.411,0.718,0.04),(0.44,0.702,0.05),(0.455,0.678,0.05),(0.471,0.655,0.06),(0.487,0.639,0.07),
               (0.504,0.616,0.07),(0.539,0.584,0.08),(0.558,0.553,0.09),(0.597,0.522,0.1),(0.617,0.506,0.11),
               (0.639,0.467,0.13),(0.661,0.451,0.14),(0.732,0.388,0.17),(0.783,0.341,0.2),(0.838,0.31,0.23),
               (0.897,0.278,0.25),(0.928,0.247,0.28),(1.027,0.2,0.3),(1.1,0.176,0.32),(1.177,0.153,0.35),
               (1.259,0.137,0.38),(1.394,0.122,0.42),(1.544,0.106,0.45),(1.709,0.098,0.48),(1.892,0.09,0.5),
               (2.17,0.087,0.52),(2.48,0.09,0.53),(2.84,0.082,0.55),(3.26,0.087,0.55),(3.73,0.09,0.57),
               (4.28,0.098,0.57),(4.9,0.106,0.58),(5.43,0.122,0.58),(6.0,0.129,0.6),(6.64,0.145,0.6),
               (7.36,0.161,0.6),(8.15,0.176,0.6),(9.02,0.192,0.62),(9.66,0.216,0.62),(10.7,0.231,0.63),
               (11.8,0.184,0.72),(11.8,0.255,0.63),(13.1,0.278,0.63),(14.0,0.31,0.62),(14.5,0.239,0.68),
               (14.9,0.333,0.64),(16.0,0.357,0.65),(17.2,0.38,0.65),(18.4,0.404,0.65),(20.4,0.459,0.66),
               (21.8,0.482,0.66),(23.3,0.506,0.67),(24.9,0.514,0.66),(27.7,0.569,0.67),(31.7,0.639,0.67),
               (32.8,0.678,0.68),(34.0,0.71,0.68),(37.5,0.765,0.68),(38.8,0.796,0.7),(40.2,0.851,0.72),
               (41.6,0.875,0.72),(44.5,0.898,0.72),(46.0,0.922,0.75),(49.2,0.984,0.88),
               (6.3,0.125,0.58),(7.0,0.14,0.59),(8.6,0.165,0.6),(10.0,0.2,0.61),(12.0,0.24,0.62),
               (13.5,0.27,0.63),(15.5,0.33,0.64),(17.8,0.37,0.65),(2.3,0.085,0.52),(3.0,0.085,0.55),
               (0.425,0.71,0.04),(0.46,0.67,0.05),(0.52,0.6,0.07),(0.58,0.54,0.09),(0.7,0.42,0.16),
               (0.86,0.29,0.24),(1.05,0.19,0.31),(1.22,0.145,0.37),(1.45,0.115,0.44),(4.6,0.1,0.58),
               (5.1,0.115,0.58),(7.8,0.17,0.6),(11.0,0.24,0.62),(12.6,0.265,0.63)]

n14_circles = [(0.394,0.845),(0.429,0.812),(0.458,0.779),(0.488,0.751),(0.51,0.718),(0.555,0.685),(0.592,0.647),
               (0.632,0.609),(0.674,0.576),(0.734,0.529),(0.783,0.496),(0.871,0.459),(0.97,0.421),(1.057,0.388),
               (1.2,0.341),(1.34,0.308),(1.49,0.224),(1.66,0.294),(1.85,0.261),(2.06,0.308),(2.29,0.271),
               (2.72,0.28),(3.16,0.308),(3.52,0.336),(3.92,0.365),(4.36,0.318),(4.86,0.388),(5.41,0.412),
               (6.02,0.459),(6.7,0.435),(7.46,0.496),(8.3,0.544),(9.24,0.576),(10.3,0.609),(11.5,0.638),
               (12.8,0.666),(14.2,0.704),(15.8,0.741),(17.6,0.779),(19.6,0.826),(21.8,0.859),(24.3,0.882),
               (27.0,0.835),(30.1,0.906),(33.5,0.92),(37.3,0.944),(41.5,0.967),(48.3,0.986),(2.84,0.365),
               (4.36,0.449),(9.24,0.506),(12.8,0.553),(15.8,0.624),(6.7,0.529),(19.6,0.732),(1.85,0.365),
               (1.2,0.412),(3.52,0.247),(5.41,0.341),
               (0.41,0.83),(0.44,0.8),(0.47,0.765),(0.5,0.735),(0.53,0.7),(0.57,0.665),(0.61,0.63),
               (0.7,0.555),(0.92,0.44),(2.5,0.3),(4.0,0.33),(8.0,0.5),(11.0,0.59),(16.5,0.69)]
n14_crosses = [(0.361,0.736,0.03),(0.448,0.732,0.04),(0.429,0.624,0.05),(0.458,0.6,0.06),(0.478,0.576,0.07),
               (0.499,0.553,0.07),(0.521,0.525,0.08),(0.544,0.496,0.09),(0.567,0.468,0.1),(0.592,0.44,0.12),
               (0.618,0.412,0.14),(0.659,0.379,0.17),(0.703,0.346,0.2),(0.75,0.313,0.24),(0.8,0.28,0.27),
               (0.871,0.247,0.3),(0.95,0.209,0.33),(1.057,0.176,0.38),(1.2,0.148,0.42),(1.4,0.125,0.45),
               (1.66,0.106,0.48),(1.97,0.096,0.5),(2.39,0.092,0.52),(2.9,0.092,0.55),(3.52,0.096,0.58),
               (4.18,0.106,0.6),(4.96,0.12,0.6),(5.9,0.139,0.62),(7.0,0.162,0.62),(8.3,0.191,0.63),
               (9.66,0.224,0.64),(11.0,0.256,0.64),(12.2,0.294,0.65),(13.6,0.332,0.65),(15.1,0.374,0.66),
               (16.9,0.421,0.66),(18.8,0.468,0.67),(20.9,0.515,0.67),(23.3,0.572,0.67),(25.9,0.633,0.67),
               (28.9,0.694,0.68),(32.1,0.76,0.68),(35.8,0.835,0.7),(42.6,0.882,0.72),(50.5,0.991,0.92),
               (8.8,0.2,0.62),(10.5,0.24,0.63),(13.0,0.3,0.64),(16.0,0.38,0.65),(19.8,0.47,0.66),
               (5.3,0.125,0.6),(4.2,0.1,0.58),
               (0.44,0.61,0.05),(0.47,0.59,0.06),(0.49,0.565,0.07),(0.53,0.51,0.08),(0.58,0.455,0.11),
               (0.64,0.395,0.15),(0.9,0.23,0.31),(1.3,0.135,0.43),(6.4,0.15,0.62),(7.6,0.175,0.62)]

# tick values / labels per panel
n3_xticks, n3_xlabels = [0.4, 0.6, 0.8, 1.0, 1.2], ["0.4", "0.6", "0.8", "1.0", ""]
n3_yticks, n3_ylabels = [0.80, 0.85, 0.90, 0.95, 1.00], ["0.80", "0.85", "0.90", "0.95", "1.00"]
n4_xticks, n4_xlabels = [0.5, 1.0, 1.5, 2.0], ["0.5", "1.0", "1.5", "2.0"]
n4_yticks, n4_ylabels = [0.6, 0.7, 0.8, 0.9, 1.0], ["0.6", "0.7", "0.8", "0.9", "1.0"]
n5_xticks, n5_xlabels = [0.5, 1.0, 2.0], ["0.5", "1.0", "2.0"]
n5_yticks, n5_ylabels = [0.4, 0.5, 0.6, 0.7, 0.8, 0.9, 1.0], ["0.4", "0.5", "0.6", "0.7", "0.8", "0.9", "1.0"]
n6_xticks, n6_xlabels = [0.5, 1.0, 2.0], ["0.5", "1.0", "2.0"]
n6_yticks, n6_ylabels = [0.3, 0.4, 0.5, 0.6, 0.7, 0.8, 0.9, 1.0], ["0.3", "", "0.5", "", "0.7", "", "0.9", ""]
x125 = [0.5, 1.0, 2.0, 5.0, 10.0, 20.0, 50.0]
x125_labels = ["0.5", "1.0", "2.0", "5.0", "10.0", "20.0", "50.0"]
y02 = [0.0, 0.2, 0.4, 0.6, 0.8, 1.0]
y02_labels = ["0.0", "0.2", "0.4", "0.6", "0.8", "1.0"]
n13_xlabels = ["0.5", "1.0", "2.0", "5.0", "10.0", "", "50.0"]
n14_xlabels = ["0.5", "1.0", "2.0", "5.0", "", "20.0", "50.0"]

titles = ["n = 2^3", "n = 2^4", "n = 2^5", "n = 2^6", "n = 2^7", "n = 2^8",
          "n = 2^9", "n = 2^10", "n = 2^11", "n = 2^12", "n = 2^13", "n = 2^14"]

panels = [
    (n3_circles, n3_crosses, n3_xticks, n3_xlabels, n3_yticks, n3_ylabels),
    (n4_circles, n4_crosses, n4_xticks, n4_xlabels, n4_yticks, n4_ylabels),
    (n5_circles, n5_crosses, n5_xticks, n5_xlabels, n5_yticks, n5_ylabels),
    (n6_circles, n6_crosses, n6_xticks, n6_xlabels, n6_yticks, n6_ylabels),
    (n7_circles, n7_crosses, x125, x125_labels, y02, y02_labels),
    (n8_circles, n8_crosses, x125, x125_labels, y02, y02_labels),
    (n9_circles, n9_crosses, x125, x125_labels, y02, y02_labels),
    (n10_circles, n10_crosses, x125, x125_labels, y02, y02_labels),
    (n11_circles, n11_crosses, x125, x125_labels, y02, y02_labels),
    (n12_circles, n12_crosses, x125, x125_labels, y02, y02_labels),
    (n13_circles, n13_crosses, x125, n13_xlabels, y02, y02_labels),
    (n14_circles, n14_crosses, x125, n14_xlabels, y02, y02_labels),
]

# colour scale for gamma
gamma_knots = [-3, -2, -1, 0, 1, 2, 3, 4, 5]
gamma_knot_pos = [0.0, 0.021, 0.046, 0.111, 0.5, 0.893, 0.956, 0.979, 1.0]
gamma_ticks = [-2, -1, 0, 1, 2, 3, 4]
gamma_labels = ["\u22122", "", "0", "1", "2", "3", "4"]

t = np.linspace(0, 1, 512)
cols = hsv_to_rgb(np.stack([0.03 + 0.94 * t, np.ones_like(t), np.ones_like(t)], axis=1))
gamma_cmap = ListedColormap(cols)

# ---------------- figure ----------------
W, H = 830, 969
fig = plt.figure(figsize=(W / 100, H / 100), dpi=100)
cw = (W / 3) / W
rh_px = 219.5
rh = rh_px / H

for i, (circ, cross, xt, xl, yt, yl) in enumerate(panels):
    r, c = divmod(i, 3)
    ax = fig.add_axes([c * cw, 1 - (r + 1) * rh, cw, rh])
    ax.set_xscale('log')
    cx = np.array([p[0] for p in circ]); cy = np.array([p[1] for p in circ])
    kx = np.array([p[0] for p in cross]); ky = np.array([p[1] for p in cross])
    kc = np.array([p[2] for p in cross])
    ax.plot(cx, cy, 'o', mfc='none', mec='#7f7f7f', ms=3.7, mew=1.0, zorder=2)
    ax.scatter(kx, ky, marker='+', c=gamma_cmap(kc), s=60, linewidths=1.25, zorder=3)
    ax.text(0.532, 1 - 27.5 / rh_px, titles[i], transform=ax.transAxes, ha='center',
            va='baseline', fontsize=12)
    ax.set_xticks(xt, xl)
    ax.set_yticks(yt, yl)
    ax.minorticks_off()
    allx = np.log(np.concatenate([cx, kx])); ally = np.concatenate([cy, ky])
    sx = allx.max() - allx.min(); sy = ally.max() - ally.min()
    ax.set_xlim(np.exp(allx.min() - 30 / 236.5 * sx), np.exp(allx.max() + 10.2 / 236.5 * sx))
    ax.set_ylim(ally.min() - 18 / 195.5 * sy, ally.max() + 6 / 195.5 * sy)
    ax.tick_params(axis='both', direction='in', length=5.8, width=0.8, labelsize=8.5, colors='black')
    ax.tick_params(axis='x', pad=-13.3)
    ax.tick_params(axis='y', pad=-15.5, labelrotation=90)
    for tk in ax.xaxis.get_major_ticks() + ax.yaxis.get_major_ticks():
        tk.label1.set_clip_box(ax.bbox)
        tk.label1.set_clip_on(True)
    for lb in ax.get_yticklabels():
        lb.set_va('center')
    for s in ax.spines.values():
        s.set_linewidth(1.0)

# colour bar
cax = fig.add_axes([10 / W, 1 - 937 / H, 810 / W, 35 / H])
grad = np.linspace(0, 1, 512)[None, :]
cax.imshow(grad, aspect='auto', cmap=gamma_cmap, extent=(0, 1, 0, 1))
cax.set_xlim(0, 1); cax.set_ylim(0, 1)
cax.set_xticks(np.interp(gamma_ticks, gamma_knots, gamma_knot_pos), gamma_labels)
cax.set_yticks([])
for s in ['top', 'left', 'right']:
    cax.spines[s].set_visible(False)
cax.spines['bottom'].set_linewidth(1.0)
cax.tick_params(axis='x', direction='out', length=6, width=0.9, labelsize=9.5, pad=2)
fig.text(415 / W, 1 - 886 / H, "gamma", ha='center', va='center', fontsize=9.5)

fig.savefig("out.png", dpi=100)
